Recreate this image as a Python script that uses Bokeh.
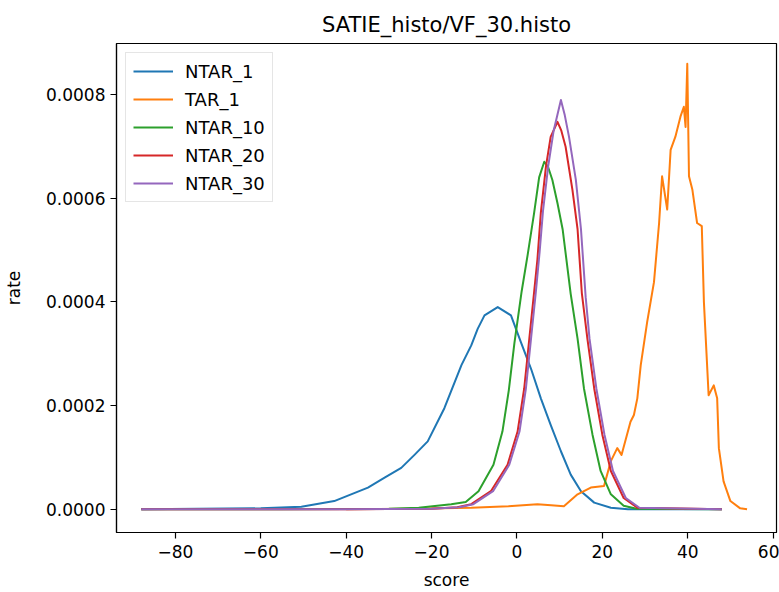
from bokeh.plotting import figure
from bokeh.models import Range1d, FixedTicker, Legend, LegendItem, PrintfTickFormatter
from bokeh.embed import file_html
from bokeh.resources import INLINE

# ---- data ----
ntar1_x = [-88, -60, -50.5, -42.8, -34.9, -31, -27.1, -24, -20.9, -17, -13, -10.7, -9.2, -7.6,
           -4.5, -1.4, 0.9, 3.3, 5.6, 7.9, 10.3, 12.6, 15, 18.1, 22, 26, 48]
ntar1_y = [0, 0.000002, 0.000005, 0.000016, 0.000042, 0.000061, 0.00008, 0.000105, 0.000131,
           0.000195, 0.000278, 0.000316, 0.000348, 0.000374, 0.00039, 0.000374, 0.000323,
           0.000271, 0.000214, 0.000163, 0.000112, 0.000067, 0.000035, 0.000013, 0.000003, 0, 0]

tar1_x = [-40, -25, -10.7, -2, 4.8, 8, 11, 14.2, 17.3, 20.4, 22, 23.5, 24.5, 26.6, 27.4, 28.2,
          29, 30.5, 32.1, 33.3, 34, 35.2, 36, 37.1, 38.3, 39.1, 39.5, 39.9, 40.3, 41.1, 42.2,
          43.3, 43.8, 44.9, 46.1, 46.9, 47.3, 48.4, 50, 52.3, 53.9]
tar1_y = [0, 0.000001, 0.000003, 0.000006, 0.00001, 0.000008, 0.000006, 0.000029, 0.000042,
          0.000045, 0.000093, 0.000118, 0.000105, 0.000169, 0.000182, 0.000214, 0.000278,
          0.000361, 0.000438, 0.000552, 0.000642, 0.000578, 0.000693, 0.000718, 0.000757,
          0.000776, 0.000737, 0.000859, 0.000642, 0.000616, 0.000552, 0.000546, 0.000399,
          0.00022, 0.000239, 0.000214, 0.000118, 0.000054, 0.000016, 0.000002, 0]

ntar10_x = [-88, -55, -40, -30, -23, -15.4, -12, -9, -5.5, -3.4, -1.9, -0.6, 1.1, 2.5, 4, 5.2,
            6.4, 7.3, 8.3, 9.5, 10.7, 12.6, 14.2, 15.7, 17.7, 19.6, 22, 25, 28, 48]
ntar10_y = [0, 0, 0.0000005, 0.000001, 0.000003, 0.00001, 0.000014, 0.000035, 0.000086,
            0.00015, 0.00023, 0.00032, 0.00042, 0.00049, 0.00057, 0.00064, 0.00067, 0.00066,
            0.000635, 0.00059, 0.00054, 0.000415, 0.000329, 0.000233, 0.000144, 0.000074,
            0.000029, 0.000007, 0.000001, 0]

ntar20_x = [-88, -40, -20, -14, -10.7, -6.1, -2.2, 0.15, 1.7, 2.9, 4.0, 4.8, 5.6, 6.8, 7.9, 9.5,
            10.4, 11.4, 13.0, 14.2, 15.2, 16.5, 18.1, 20, 22, 25, 28.2, 48]
ntar20_y = [0, 0, 0.000001, 0.000004, 0.00001, 0.000035, 0.000086, 0.00015, 0.000233, 0.000329,
            0.000417, 0.000482, 0.000572, 0.000661, 0.000718, 0.000747, 0.00073, 0.000699,
            0.000616, 0.00054, 0.000417, 0.000329, 0.000233, 0.000144, 0.000074, 0.000022,
            0.000003, 0]

ntar30_x = [-88, -40, -20, -13.5, -10.2, -5.6, -1.8, 0.6, 2.1, 3.3, 4.4, 5.3, 6.1, 7.3, 8.6, 10.3,
            11.2, 12.2, 13.8, 15.0, 16.1, 17.0, 18.6, 20.5, 22.5, 25.5, 28.7, 48]
ntar30_y = [0, 0, 0.000001, 0.000004, 0.00001, 0.000035, 0.000086, 0.00015, 0.000233, 0.000329,
            0.000417, 0.000495, 0.000575, 0.00066, 0.00073, 0.000789, 0.00076, 0.000718,
            0.000635, 0.00054, 0.000409, 0.000329, 0.000233, 0.000144, 0.000074, 0.000022,
            0.000003, 0]

series_names = ["NTAR_1", "TAR_1", "NTAR_10", "NTAR_20", "NTAR_30"]
series_colors = ["#1f77b4", "#ff7f0e", "#2ca02c", "#d62728", "#9467bd"]
x_ticks = [-80, -60, -40, -20, 0, 20, 40, 60]
y_ticks = [0, 0.0002, 0.0004, 0.0006, 0.0008]

FONT = "DejaVu Sans"

p = figure(width=779, height=592, output_backend="svg", toolbar_location=None,
           x_range=Range1d(-93.8, 60.8), y_range=Range1d(-0.0000446, 0.000898),
           min_border_left=116, min_border_right=3, min_border_top=43, min_border_bottom=57,
           title="SATIE_histo/VF_30.histo")
p.title.align = "center"
p.title.text_font = FONT
p.title.text_font_size = "21px"
p.title.text_font_style = "normal"
p.title.text_color = "black"
p.title.offset = 0
p.title.standoff = 13

p.xgrid.visible = False
p.ygrid.visible = False
p.outline_line_color = "black"
p.outline_line_width = 1.2

xs = [ntar1_x, tar1_x, ntar10_x, ntar20_x, ntar30_x]
ys = [ntar1_y, tar1_y, ntar10_y, ntar20_y, ntar30_y]
items = []
for name, col, x, y in zip(series_names, series_colors, xs, ys):
    r = p.line(x, y, line_color=col, line_width=2, line_join="round")
    items.append(LegendItem(label=name, renderers=[r]))

legend = Legend(items=items, location="top_left")
legend.label_text_font = FONT
legend.label_text_font_size = "18px"
legend.label_text_color = "black"
legend.glyph_width = 40
legend.glyph_height = 22
legend.label_height = 22
legend.label_standoff = 12
legend.spacing = 6
legend.padding = 7
legend.margin = 9
legend.border_line_color = "#cccccc"
legend.border_line_width = 1
legend.background_fill_alpha = 0.8
p.add_layout(legend)

p.xaxis.ticker = FixedTicker(ticks=x_ticks)
p.xaxis.major_label_overrides = {t: (("\u2212" + str(-t)) if t < 0 else str(t)) for t in x_ticks}
p.yaxis.ticker = FixedTicker(ticks=y_ticks)
p.yaxis.formatter = PrintfTickFormatter(format="%.4f")

for ax in (p.xaxis[0], p.yaxis[0]):
    ax.minor_tick_line_color = None
    ax.major_tick_in = 0
    ax.major_tick_out = 6
    ax.major_tick_line_color = "black"
    ax.major_tick_line_width = 1.2
    ax.axis_line_color = "black"
    ax.axis_line_width = 1.2
    ax.major_label_text_font = FONT
    ax.major_label_text_font_size = "17px"
    ax.major_label_text_color = "black"
    ax.axis_label_text_font = FONT
    ax.axis_label_text_font_size = "17px"
    ax.axis_label_text_font_style = "normal"
    ax.axis_label_text_color = "black"

p.xaxis.axis_label = "score"
p.xaxis.major_label_standoff = 6
p.xaxis.axis_label_standoff = 9
p.yaxis.axis_label = "rate"
p.yaxis.major_label_standoff = 5
p.yaxis.axis_label_standoff = 19

open("out.html", "w").write(file_html(p, INLINE))
